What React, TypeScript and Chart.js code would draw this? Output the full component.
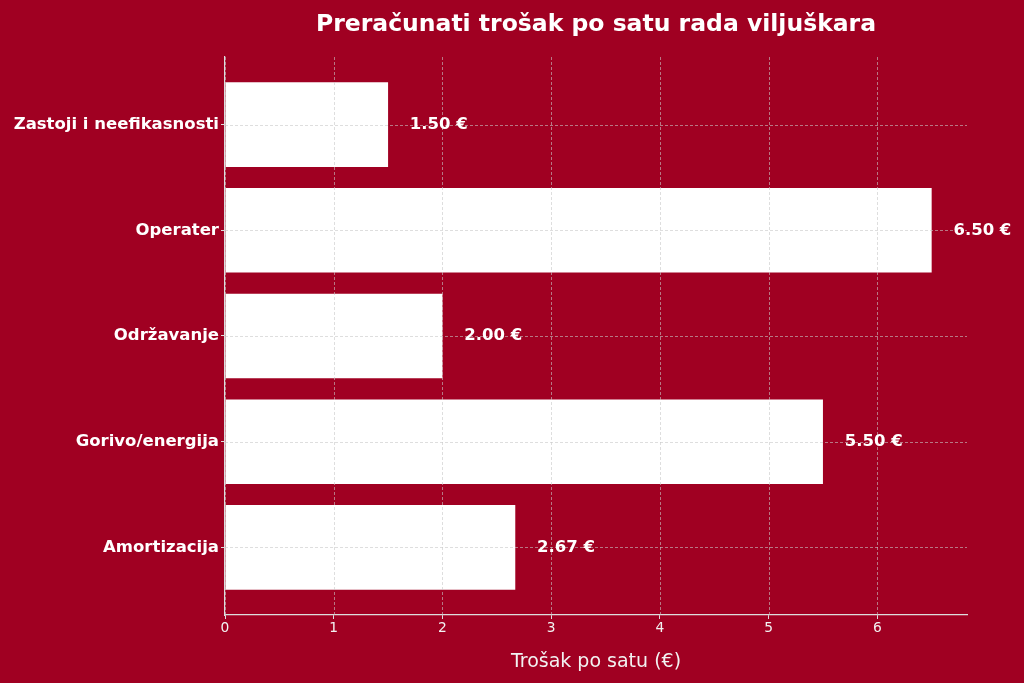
import { useEffect, useRef } from 'react'
import { Chart, registerables } from 'chart.js'

Chart.register(...registerables)

// bottom to top, as in the picture
const categories = ['Amortizacija', 'Gorivo/energija', 'Održavanje', 'Operater', 'Zastoji i neefikasnosti']
const costs = [2.67, 5.5, 2.0, 6.5, 1.5]
const xTicks = [0, 1, 2, 3, 4, 5, 6]

const BG = '#a00022'
const FONT = "'DejaVu Sans', sans-serif"

export default function App() {
  const canvasRef = useRef<HTMLCanvasElement>(null)

  useEffect(() => {
    document.body.style.margin = '0'
    document.body.style.background = BG
    const ctx = canvasRef.current?.getContext('2d')
    if (!ctx) return

    const overlay = {
      id: 'overlay',
      beforeDraw(chart: any) {
        const c = chart.ctx
        c.save()
        c.fillStyle = BG
        c.fillRect(0, 0, chart.width, chart.height)
        c.restore()
      },
      afterDatasetsDraw(chart: any) {
        const c = chart.ctx
        const { left, right, top, bottom } = chart.chartArea
        const xs = chart.scales.x
        const ys = chart.scales.y
        c.save()
        // grid on top of bars
        c.strokeStyle = 'rgba(200,200,200,0.75)'
        c.lineWidth = 0.8
        c.setLineDash([3, 2])
        xTicks.forEach(t => {
          const px = Math.round(xs.getPixelForValue(t)) + 0.5
          c.beginPath()
          c.moveTo(px, top)
          c.lineTo(px, bottom)
          c.stroke()
        })
        categories.forEach((_, i) => {
          const py = Math.round(ys.getPixelForValue(i)) + 0.5
          c.beginPath()
          c.moveTo(left, py)
          c.lineTo(right, py)
          c.stroke()
        })
        c.setLineDash([])
        // value labels
        c.fillStyle = '#ffffff'
        c.font = `bold 16.5px ${FONT}`
        c.textAlign = 'left'
        c.textBaseline = 'middle'
        costs.forEach((v, i) => {
          c.fillText(`${v.toFixed(2)} €`, xs.getPixelForValue(v + 0.2), ys.getPixelForValue(i))
        })
        // title
        c.font = `bold 23.5px ${FONT}`
        c.textAlign = 'center'
        c.fillText('Preračunati trošak po satu rada viljuškara', (left + right) / 2, 25)
        c.restore()
      }
    }

    const chart = new Chart(ctx, {
      type: 'bar',
      data: {
        datasets: [
          {
            data: costs.map((v, i) => ({ x: v, y: i })),
            backgroundColor: '#ffffff',
            borderWidth: 0,
            categoryPercentage: 1,
            barPercentage: 0.8
          }
        ]
      },
      options: {
        indexAxis: 'y',
        responsive: false,
        animation: false,
        layout: { padding: { left: 0, right: 57, top: 57, bottom: 0 } },
        plugins: {
          legend: { display: false },
          tooltip: { enabled: false }
        },
        scales: {
          x: {
            type: 'linear',
            min: 0,
            max: 6.825,
            afterBuildTicks: (scale: any) => {
              scale.ticks = xTicks.map(v => ({ value: v }))
            },
            afterFit: (scale: any) => {
              scale.height = 68
            },
            ticks: {
              color: '#f2f2f2',
              font: { family: FONT, size: 13.8 },
              padding: 1,
              callback: (v: any) => String(v)
            },
            grid: { drawOnChartArea: false, tickLength: 4, tickColor: '#dddddd' },
            border: { color: '#dddddd', width: 1.2 },
            title: {
              display: true,
              text: 'Trošak po satu (€)',
              color: '#f2f2f2',
              font: { family: FONT, size: 19 },
              padding: { top: 3, bottom: 10 }
            }
          },
          y: {
            type: 'linear',
            offset: false,
            min: -0.64,
            max: 4.64,
            afterBuildTicks: (scale: any) => {
              scale.ticks = categories.map((_, i) => ({ value: i }))
            },
            afterFit: (scale: any) => {
              scale.width = 225
            },
            ticks: {
              color: '#ffffff',
              font: { family: FONT, size: 16.5, weight: 'bold' },
              padding: 2,
              callback: (v: any) => categories[v] ?? ''
            },
            grid: { offset: false, drawOnChartArea: false, tickLength: 4, tickColor: '#dddddd' },
            border: { color: '#dddddd', width: 1.2 }
          }
        }
      },
      plugins: [overlay]
    })

    return () => chart.destroy()
  }, [])

  return <canvas ref={canvasRef} width={1024} height={683} style={{ display: 'block' }} />
}
